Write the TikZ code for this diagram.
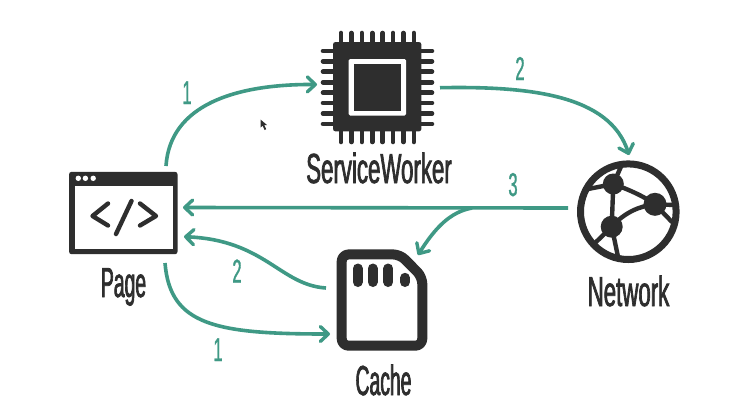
\documentclass[tikz,border=0pt]{standalone}
\usepackage{fontspec}
\usetikzlibrary{arrows.meta,calc}
\setmainfont{Liberation Sans}
\newfontfamily\handfont[FakeStretch=0.46,FakeBold=1.6]{Liberation Sans}
\newfontfamily\handwide[FakeStretch=0.53,FakeBold=1.6]{Liberation Sans}
\newfontfamily\handdigit[FakeStretch=0.5,FakeBold=1.0]{Liberation Sans}
\definecolor{teal1}{HTML}{3F9985}
\definecolor{ink}{HTML}{2E2E2E}
\tikzset{
  flow/.style={draw=teal1,line width=3.6pt,line cap=butt,-{Straight Barb[length=8pt,width=15pt,line width=3.4pt,round]}},
  title/.style={anchor=base,text=ink,inner sep=0pt,font=\handfont\fontsize{42}{42}\selectfont},
  widetitle/.style={anchor=base,text=ink,inner sep=0pt,font=\handwide\fontsize{42}{42}\selectfont},
  digit/.style={anchor=base,text=teal1,inner sep=0pt,font=\handdigit\fontsize{33}{33}\selectfont},
  iconbox/.style={inner sep=0pt,draw=none},
  pin/.style={draw=ink,line width=4.6pt,line cap=round},
  thick stroke/.style={draw=ink,line width=4.4pt,line cap=round},
}
\begin{document}
\begin{tikzpicture}[x=1pt,y=-1pt]
\useasboundingbox (0,0) rectangle (735,408);
\fill[white] (0,0) rectangle (735,408);

% icon nodes
\node[iconbox,minimum width=108pt,minimum height=82pt] (page) at (123.3,213) {};
\node[iconbox,minimum width=88pt,minimum height=89pt] (chip) at (377.2,86.7) {};
\node[iconbox,minimum width=91pt,minimum height=101pt] (cache) at (382,300) {};
\node[iconbox,minimum width=103pt,minimum height=103pt] (net) at (628.3,211.7) {};

% Page icon
\fill[ink,rounded corners=2.5pt] (page.north west) rectangle (page.south east);
\fill[white] (74.5,186) rectangle (172.5,249);
\foreach \x in {78.3,85.4,93.2} \fill[white] (\x,178.3) circle (2.7pt);
\draw[draw=ink,line width=4.4pt,line cap=round,line join=round] (108,203.5) -- (92.5,216) -- (108,225.5);
\draw[draw=ink,line width=4.4pt,line cap=round,line join=round] (140,203.5) -- (156,216) -- (140,225.5);
\draw[draw=ink,line width=4.4pt,line cap=round] (131.5,201) -- (116,234);

% Chip icon
\foreach \x in {341,351.4,361.8,372.2,382.6,393,403.4,413.8} \draw[pin] (\x,33) -- (\x,142);
\foreach \y in {51,61.3,71.7,82.2,92.7,103,113.5,124} \draw[pin] (323,\y) -- (432,\y);
\fill[ink,rounded corners=2.5pt] (chip.north west) rectangle (chip.south east);
\fill[white,rounded corners=1.5pt] (348.7,59) rectangle (406,115.7);
\fill[ink] (354,64.3) rectangle (401,111);

% Cache icon
\draw[draw=ink,line width=10pt,line join=round,rounded corners=7pt]
  (341.7,254.4) -- (400,254.4) -- (422.3,277) -- (422.3,345.7) -- (341.7,345.7) -- cycle;
\foreach \x in {357.7,372.6,388.3} \draw[draw=ink,line width=10pt,line cap=round] (\x,268.5) -- (\x,282);
\draw[draw=ink,line width=10pt,line cap=round] (405,277.8) -- (405,282);

% Network icon
\draw[draw=ink,line width=7pt] (net.center) circle (47.8pt);
\coordinate (n1) at (613.3,184);
\coordinate (n2) at (655,204.3);
\coordinate (n3) at (611.7,226.7);
\foreach \p/\q in {n1/{621.7,165},n1/{586.7,189.3},n1/n3,n2/{675,205},n2/{671.7,221.7},n3/{593,245},n3/{618,256.7}}
  \draw[thick stroke] (\p) -- (\q);
\draw[thick stroke] (n1) .. controls (630,190) and (645,197) .. (n2);
\draw[thick stroke] (n3) .. controls (625,212) and (640,206) .. (n2);
\fill[ink] (n1) circle (10.5pt) (n2) circle (11.5pt) (n3) circle (11pt);

% Cursor
\fill[ink] (260.5,119.5) -- (260.5,127.5) -- (262.7,125.8) -- (264.6,130) -- (266.2,129.2) -- (264.3,125.2) -- (267,125) -- cycle;

% Connector ends
\coordinate (a1s) at (166,166);   \coordinate (a1e) at (317,84.5);
\coordinate (a2s) at (440,87.7);  \coordinate (a2e) at (629,155);
\coordinate (a3s) at (568,208);   \coordinate (a3e) at (183,207.5);
\coordinate (a3b) at (472,208);   \coordinate (a3c) at (418,255);
\coordinate (a4s) at (326,288);   \coordinate (a4e) at (184,236.7);
\coordinate (a5s) at (165,263);   \coordinate (a5e) at (330,334);

\draw[flow] (a1s) .. controls (170,105) and (235,84) .. (a1e);
\draw[flow] (a2s) .. controls (530,86) and (610,95) .. (a2e);
\draw[flow] (a3s) -- (a3e);
\draw[flow] (a3b) .. controls (450,212) and (435,228) .. (a3c);
\draw[flow] (a4s) .. controls (280,285) and (265,240) .. (a4e);
\draw[flow] (a5s) .. controls (170,325) and (215,334) .. (a5e);

% Labels
\node[title] (lpage) at (123.5,297) {Page};
\node[widetitle] (lsw) at (379,183) {ServiceWorker};
\node[title] (lcache) at (383.5,395) {Cache};
\node[widetitle] (lnet) at (628.5,306) {Network};
\node[digit] (d1) at (187,104) {1};
\node[digit] (d2) at (520,80) {2};
\node[digit] (d3) at (513,196) {3};
\node[digit] (d4) at (237,282.5) {2};
\node[digit] (d5) at (218,361) {1};
\end{tikzpicture}
\end{document}
